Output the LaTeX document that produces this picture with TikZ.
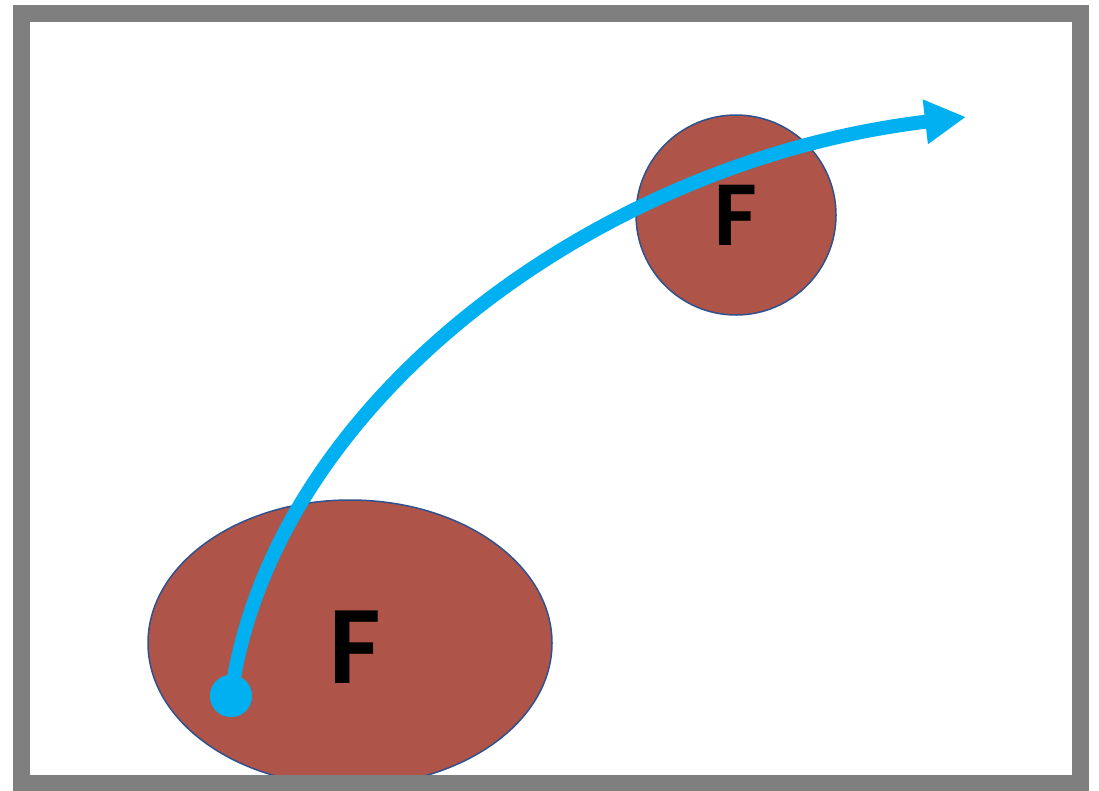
\documentclass[tikz,border=0pt]{standalone}
\usepackage{fontspec}
\setmainfont{Carlito}
\usetikzlibrary{shapes.geometric,arrows.meta,positioning,calc}
\definecolor{blobfill}{RGB}{174,84,72}
\definecolor{blobline}{RGB}{47,82,143}
\definecolor{pathblue}{RGB}{0,176,240}
\definecolor{framegray}{RGB}{127,127,127}

\begin{document}
\begin{tikzpicture}[x=1pt, y=-1pt,
    blob/.style={draw=blobline, line width=1.5pt, fill=blobfill, inner sep=0pt, font=\bfseries},
    dot/.style={circle, fill=pathblue, minimum size=42pt, inner sep=0pt},
    traj/.style={draw=pathblue, line width=14pt, -{Triangle[length=41pt,width=42pt]}}
]
\useasboundingbox (0,0) rectangle (1099,790);

% Bodies
\node[blob, ellipse, minimum width=404pt, minimum height=286pt] (big) at (350,643) {};
\node[font=\fontsize{112}{112}\bfseries] at ($(big)+(5,4)$) {F};
\node[blob, circle, minimum size=200pt, font=\fontsize{93}{93}\bfseries] (small) at (736,215) {F};

% Trajectory
\node[dot] (start) at (231,696) {};
\coordinate (tip) at (966,117);
\draw[traj] (start.center) .. controls (272,400) and (600,160) .. (tip);
\node[dot] at (start) {};

% Frame
\draw[framegray, line width=17pt] (21.5,13.5) rectangle (1080.5,783);
\end{tikzpicture}
\end{document}
